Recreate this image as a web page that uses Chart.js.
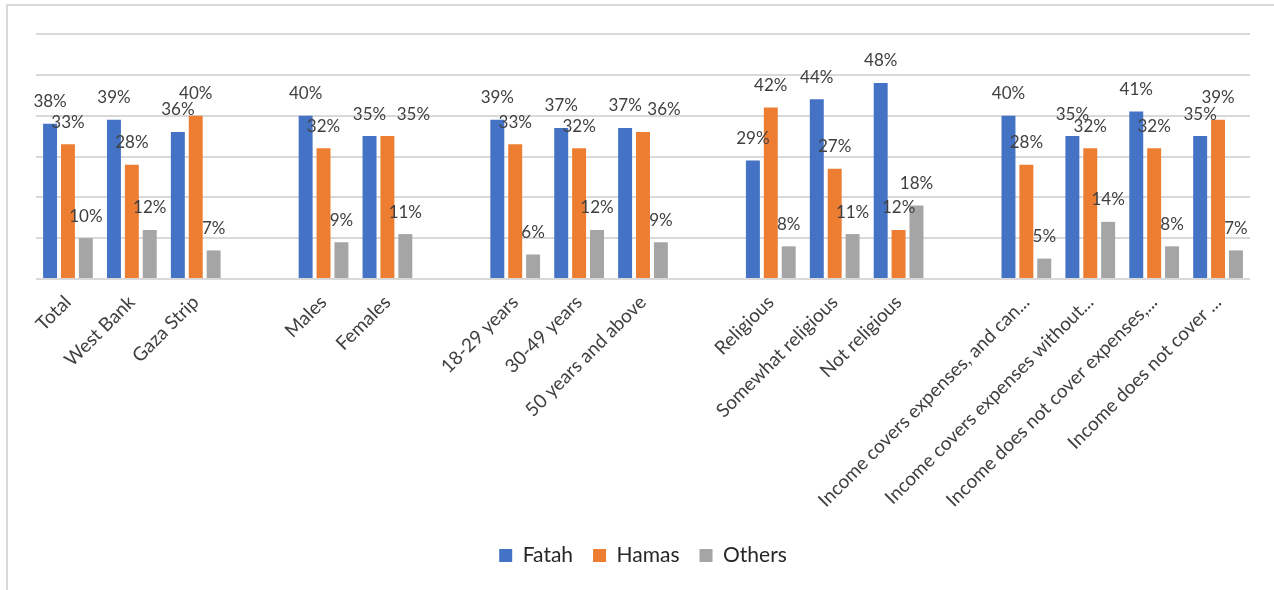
<!DOCTYPE html>
<html>
<head>
<meta charset="utf-8">
<script src="https://cdn.jsdelivr.net/npm/chart.js@4"></script>
<style>
  html, body { margin: 0; padding: 0; background: #fff; }
  #wrap { position: relative; width: 1274px; height: 590px; overflow: hidden; }
  #frame { position: absolute; left: 6px; top: 4px; width: 1300px; height: 700px; border-left: 2px solid #d9d9d9; border-top: 2px solid #d9d9d9; box-sizing: border-box; }
  canvas { position: absolute; left: 0; top: 0; }
</style>
</head>
<body>
<div id="wrap">
  <div id="frame"></div>
  <canvas id="partyChart" width="1274" height="590"></canvas>
</div>
<script>
const categories = [
    'Total', 'West Bank', 'Gaza Strip', '',
    'Males', 'Females', '',
    '18-29 years', '30-49 years', '50 years and above', '',
    'Religious', 'Somewhat religious', 'Not religious', '',
    'Income covers expenses, and can...', 'Income covers expenses without...',
    'Income does not cover expenses,...', 'Income does not cover ...'
];
const fatah  = [38, 39, 36, null, 40, 35, null, 39, 37, 37, null, 29, 44, 48, null, 40, 35, 41, 35];
const hamas  = [33, 28, 40, null, 32, 35, null, 33, 32, 36, null, 42, 27, 12, null, 28, 32, 32, 39];
const others = [10, 12, 7, null, 9, 11, null, 6, 12, 9, null, 8, 11, 18, null, 5, 14, 8, 7];
const yTicks = [0, 10, 20, 30, 40, 50, 60];

const FONT = 'Lato, "Open Sans", sans-serif';
const TEXT = '#404040';

// a couple of labels were nudged sideways in the original to avoid overlap
const labelShift = { '1:5': 26, '1:9': 21 };

const barLabels = {
    id: 'barLabels',
    afterDatasetsDraw(chart) {
        const ctx = chart.ctx;
        ctx.save();
        ctx.font = '17px ' + FONT;
        ctx.fillStyle = TEXT;
        ctx.textAlign = 'center';
        ctx.textBaseline = 'middle';
        chart.data.datasets.forEach((ds, i) => {
            const meta = chart.getDatasetMeta(i);
            meta.data.forEach((bar, j) => {
                const v = ds.data[j];
                if (v === null) return;
                const dx = labelShift[i + ':' + j] || 0;
                ctx.fillText(v + '%', bar.x + dx, bar.y - 22);
            });
        });
        ctx.restore();
    }
};

const ctx = document.getElementById('partyChart').getContext('2d');
new Chart(ctx, {
    type: 'bar',
    data: {
        labels: categories,
        datasets: [
            { label: 'Fatah', data: fatah, backgroundColor: '#4472C4' },
            { label: 'Hamas', data: hamas, backgroundColor: '#ED7D31' },
            { label: 'Others', data: others, backgroundColor: '#A5A5A5' }
        ]
    },
    options: {
        responsive: false,
        animation: false,
        categoryPercentage: 0.84,
        barPercentage: 0.78,
        layout: { padding: { left: 36, right: 24, top: 34, bottom: 14 } },
        scales: {
            x: {
                grid: { display: false },
                border: { display: false },
                afterFit: axis => { axis.height = 246; },
                ticks: {
                    autoSkip: false,
                    minRotation: 45,
                    maxRotation: 45,
                    padding: 4,
                    color: TEXT,
                    font: { family: FONT, size: 19 }
                }
            },
            y: {
                min: 0,
                max: 60,
                afterBuildTicks: axis => { axis.ticks = yTicks.map(v => ({ value: v })); },
                ticks: { display: false },
                grid: { color: '#d9d9d9', lineWidth: 2, drawTicks: false },
                border: { display: false }
            }
        },
        plugins: {
            legend: {
                position: 'bottom',
                labels: {
                    boxWidth: 13,
                    boxHeight: 13,
                    padding: 20,
                    color: '#262626',
                    font: { family: FONT, size: 21 }
                }
            },
            tooltip: { enabled: false }
        }
    },
    plugins: [barLabels]
});
</script>
</body>
</html>
